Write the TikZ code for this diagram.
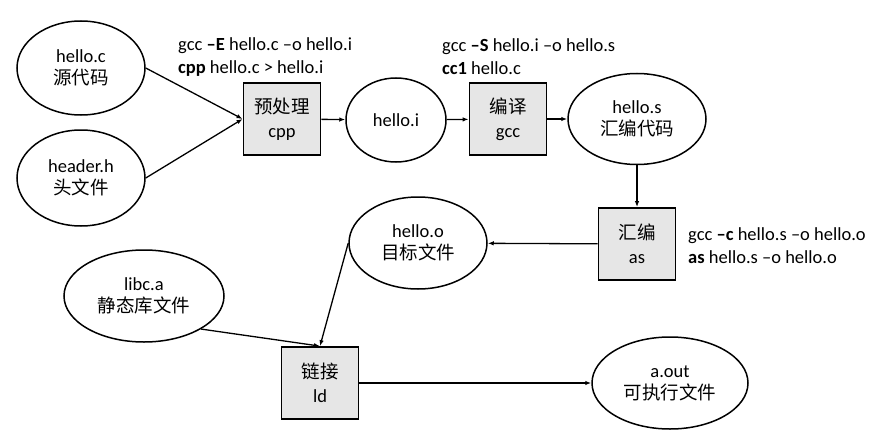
\documentclass[tikz,border=0pt]{standalone}
\usepackage{fontspec}
\setmainfont{Carlito}
\newfontfamily\cjk{Noto Sans CJK SC}
\usetikzlibrary{shapes.geometric,arrows.meta}
\definecolor{boxgray}{HTML}{E6E6E6}

\begin{document}
\begin{tikzpicture}[x=1pt,y=-1pt,
    file/.style={draw,ellipse,line width=1.5pt,inner sep=0pt,align=center,
        font=\fontsize{18.5}{22}\selectfont},
    tool/.style={draw,fill=boxgray,line width=1.8pt,minimum width=77pt,minimum height=72pt,
        inner sep=0pt,align=center,font=\fontsize{18.5}{24}\selectfont},
    flow/.style={-{Latex[length=6pt,width=4.5pt]},line width=1.3pt},
    cmd/.style={anchor=west,align=left,inner sep=0pt,font=\fontsize{18.5}{23}\selectfont}]
    \useasboundingbox (0,0) rectangle (877,441);

    % files
    \node[file,minimum width=128pt,minimum height=94pt] (helloc) at (81,68) {hello.c\\{\cjk 源代码}};
    \node[file,minimum width=128pt,minimum height=96pt] (header) at (81,178) {header.h\\{\cjk 头文件}};
    \node[file,minimum width=100pt,minimum height=84pt] (helloi) at (396,120) {hello.i};
    \node[file,minimum width=138pt,minimum height=91pt] (hellos) at (637,119) {hello.s\\{\cjk 汇编代码}};
    \node[file,minimum width=138pt,minimum height=92pt] (helloo) at (418,243) {hello.o\\{\cjk 目标文件}};
    \node[file,minimum width=160pt,minimum height=92pt] (libc) at (144,296) {libc.a\\{\cjk 静态库文件}};
    \node[file,minimum width=156pt,minimum height=92pt] (aout) at (670,383) {a.out\\{\cjk 可执行文件}};

    % tools
    \node[tool] (cpp) at (282,119) {{\cjk 预处理}\\cpp};
    \node[tool] (cc) at (508,119) {{\cjk 编译}\\gcc};
    \node[tool] (asm) at (637,244) {{\cjk 汇编}\\as};
    \node[tool] (ld) at (320,383) {{\cjk 链接}\\ld};

    % commands
    \node[cmd] (cppcmd) at (178,57) {gcc \textbf{–E} hello.c –o hello.i\\\textbf{cpp} hello.c > hello.i};
    \node[cmd] (cccmd) at (442,57) {gcc \textbf{–S} hello.i –o hello.s\\\textbf{cc1} hello.c};
    \node[cmd] (ascmd) at (688,246) {gcc \textbf{–c} hello.s –o hello.o\\\textbf{as} hello.s –o hello.o};

    % arrows
    \draw[flow] (helloc.east) -- (cpp.west);
    \draw[flow] (header.east) -- (cpp.west);
    \draw[flow] (cpp) -- (helloi);
    \draw[flow] (helloi) -- (cc);
    \draw[flow] (cc) -- (hellos);
    \draw[flow] (hellos) -- (asm);
    \draw[flow] (asm) -- (helloo);
    \draw[flow] (helloo.west) -- (ld.north);
    \draw[flow] (libc.south east) -- (ld.north);
    \draw[flow] (ld) -- (aout);
\end{tikzpicture}
\end{document}
